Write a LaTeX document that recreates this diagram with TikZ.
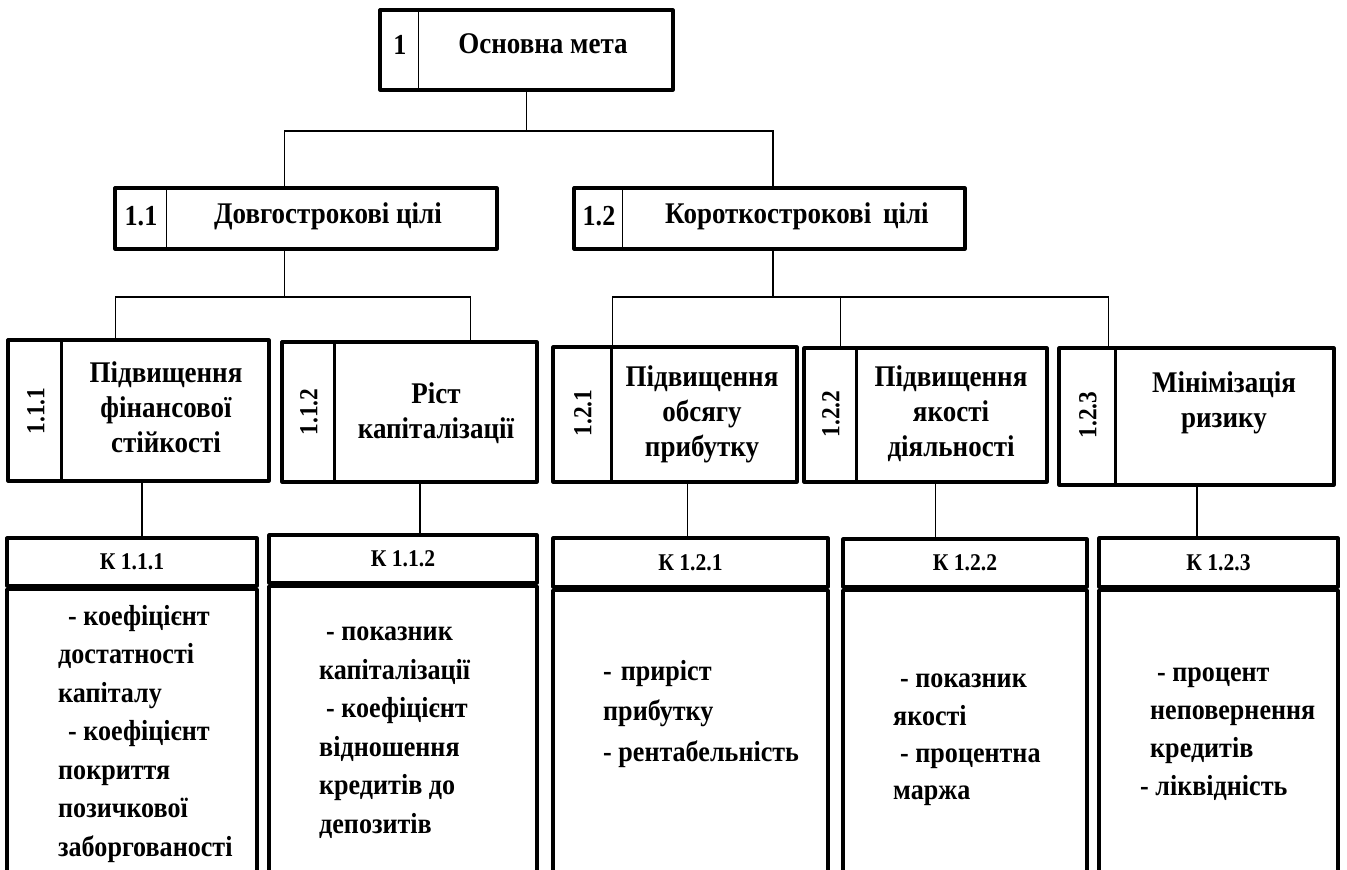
\documentclass[tikz,border=0pt]{standalone}
\usepackage{fontspec}
\setmainfont{Liberation Serif}[FakeStretch=0.9]
\usetikzlibrary{calc}
% rectangle node given by its corners: name, x1, y1, x2, y2
\newcommand\goalbox[5]{%
  \node[frame, minimum width={(#4)-(#2)}, minimum height={(#5)-(#3)}]
    (#1) at ({((#2)+(#4))/2},{((#3)+(#5))/2}) {};}
% indicator box: name, x1, y1 (top), y2 (header bottom), x2, header text
\newcommand\kpibox[6]{%
  \node[frame, minimum width={(#5)-(#2)}, minimum height={(#4)-(#3)}, font=\bfseries\fontsize{24}{28}\selectfont]
    (#1) at ({((#2)+(#5))/2},{((#3)+(#4))/2}) {#6};
  \node[frame, minimum width={(#5)-(#2)}, minimum height={920-(#4)}, anchor=north]
    (#1b) at (#1.south) {};}
\begin{document}
\begin{tikzpicture}[x=1pt,y=-1pt,
  frame/.style={draw, line width=3.2pt, line join=round, inner sep=0pt},
  link/.style={line width=1.2pt},
  thindiv/.style={line width=1.4pt},
  thickdiv/.style={line width=3pt},
  numtxt/.style={inner sep=0pt, font=\bfseries\fontsize{29}{32}\selectfont},
  ttl/.style={inner sep=0pt, font=\bfseries\fontsize{30}{34}\selectfont},
  vnum/.style={inner sep=0pt, rotate=90, font=\bfseries\fontsize{26}{30}\selectfont},
  subttl/.style={inner sep=0pt, align=center, font=\bfseries\fontsize{30}{35}\selectfont},
  bodytxt/.style={anchor=north west, inner sep=0pt, align=left, font=\bfseries\fontsize{29}{38.5}\selectfont}
]
\useasboundingbox (0,0) rectangle (1347,870);
\clip (0,0) rectangle (1347,870);

% ---- main goal
\goalbox{g1}{380}{10}{673}{90}
\draw[thindiv] ([xshift=40pt]g1.north west) -- ([xshift=40pt]g1.south west);
\node[numtxt] (n1) at (400,45) {1};
\node[ttl] (t1) at (543,44) {Основна мета};

% ---- second level
\goalbox{g11}{115}{188}{497}{249}
\draw[thindiv] ([xshift=53pt]g11.north west) -- ([xshift=53pt]g11.south west);
\node[numtxt] (n11) at (141,216) {1.1};
\node[ttl] (t11) at (328,216) {Довгострокові цілі};

\goalbox{g12}{574}{188}{965}{249}
\draw[thindiv] ([xshift=50pt]g12.north west) -- ([xshift=50pt]g12.south west);
\node[numtxt] (n12) at (599,216) {1.2};
\node[ttl] (t12) at (797,216) {Короткострокові\, цілі};

% ---- third level
\goalbox{g111}{8}{340}{269}{481}
\draw[thickdiv] ([xshift=55pt]g111.north west) -- ([xshift=55pt]g111.south west);
\node[vnum] (n111) at (36,411) {1.1.1};
\node[subttl] (t111) at (166,407) {Підвищення\\фінансової\\стійкості};

\goalbox{g112}{282}{342}{537}{482}
\draw[thickdiv] ([xshift=54pt]g112.north west) -- ([xshift=54pt]g112.south west);
\node[vnum] (n112) at (309,412) {1.1.2};
\node[subttl] (t112) at (436,413) {Ріст\\капіталізації};

\goalbox{g121}{553}{347}{797}{482}
\draw[thickdiv] ([xshift=60pt]g121.north west) -- ([xshift=60pt]g121.south west);
\node[vnum] (n121) at (583,413) {1.2.1};
\node[subttl] (t121) at (702,414) {Підвищення\\обсягу\\прибутку};

\goalbox{g122}{804}{348}{1047}{482}
\draw[thickdiv] ([xshift=54pt]g122.north west) -- ([xshift=54pt]g122.south west);
\node[vnum] (n122) at (831,414) {1.2.2};
\node[subttl] (t122) at (951,414) {Підвищення\\якості\\діяльності};

\goalbox{g123}{1059}{348}{1334}{485}
\draw[thickdiv] ([xshift=58pt]g123.north west) -- ([xshift=58pt]g123.south west);
\node[vnum] (n123) at (1088,415) {1.2.3};
\node[subttl] (t123) at (1224,403) {Мінімізація\\ризику};

% ---- indicator boxes
\kpibox{k111}{7}{538}{586}{257}{К 1.1.1}
\kpibox{k112}{269}{535}{583}{537}{К 1.1.2}
\kpibox{k121}{553}{538}{587}{828}{К 1.2.1}
\kpibox{k122}{843}{539}{587}{1087}{К 1.2.2}
\kpibox{k123}{1099}{538}{587}{1338}{К 1.2.3}

\node[bodytxt] (b111) at (58,605) {\hspace*{10pt}- коефіцієнт\\достатності\\капіталу\\\hspace*{10pt}- коефіцієнт\\покриття\\позичкової\\заборгованості};
\node[bodytxt] (b112) at (319,627) {\hspace*{7pt}- показник\\капіталізації\\\hspace*{7pt}- коефіцієнт\\відношення\\кредитів до\\депозитів};
\node[bodytxt, font=\bfseries\fontsize{29}{40.5}\selectfont] (b121) at (603,660) {-\hspace{9pt}приріст\\прибутку\\- рентабельність};
\node[bodytxt, font=\bfseries\fontsize{29}{37.3}\selectfont] (b122) at (893,674) {\hspace*{7pt}- показник\\якості\\\hspace*{7pt}- процентна\\маржа};
\node[bodytxt, font=\bfseries\fontsize{29}{38}\selectfont] (b123) at (1140,668) {\hspace*{17pt}- процент\\\hspace*{10pt}неповернення\\\hspace*{10pt}кредитів\\- ліквідність};

% ---- attachment points of the connectors
\coordinate (j1) at (0,131);
\coordinate (j2) at (0,297);
\coordinate (u11) at ($(g11.north west)!0.445!(g11.north east)$);
\coordinate (u12) at ($(g12.north west)!0.509!(g12.north east)$);
\coordinate (d11) at ($(g11.south west)!0.445!(g11.south east)$);
\coordinate (d12) at ($(g12.south west)!0.509!(g12.south east)$);
\coordinate (u111) at ($(g111.north west)!0.414!(g111.north east)$);
\coordinate (u112) at ($(g112.north west)!0.737!(g112.north east)$);
\coordinate (u121) at ($(g121.north west)!0.246!(g121.north east)$);
\coordinate (u122) at ($(g122.north west)!0.156!(g122.north east)$);
\coordinate (u123) at ($(g123.north west)!0.185!(g123.north east)$);
\coordinate (d111) at ($(g111.south west)!0.513!(g111.south east)$);
\coordinate (d112) at ($(g112.south west)!0.541!(g112.south east)$);
\coordinate (d121) at ($(g121.south west)!0.549!(g121.south east)$);
\coordinate (d122) at ($(g122.south west)!0.541!(g122.south east)$);
\coordinate (d123) at ($(g123.south west)!0.502!(g123.south east)$);

% ---- connectors
\draw[link] (g1.south) -- (g1.south |- j1);
\draw[link] (u11) -- (u11 |- j1) -- (u12 |- j1) -- (u12);
\draw[link] (d11) -- (d11 |- j2);
\draw[link] (u111) -- (u111 |- j2) -- (u112 |- j2) -- (u112);
\draw[link] (d12) -- (d12 |- j2);
\draw[link] (u121) -- (u121 |- j2) -- (u123 |- j2) -- (u123);
\draw[link] (u122 |- j2) -- (u122);
\draw[link] (d111) -- (d111 |- k111.north);
\draw[link] (d112) -- (d112 |- k112.north);
\draw[link] (d121) -- (d121 |- k121.north);
\draw[link] (d122) -- (d122 |- k122.north);
\draw[link] (d123) -- (d123 |- k123.north);
\end{tikzpicture}
\end{document}
